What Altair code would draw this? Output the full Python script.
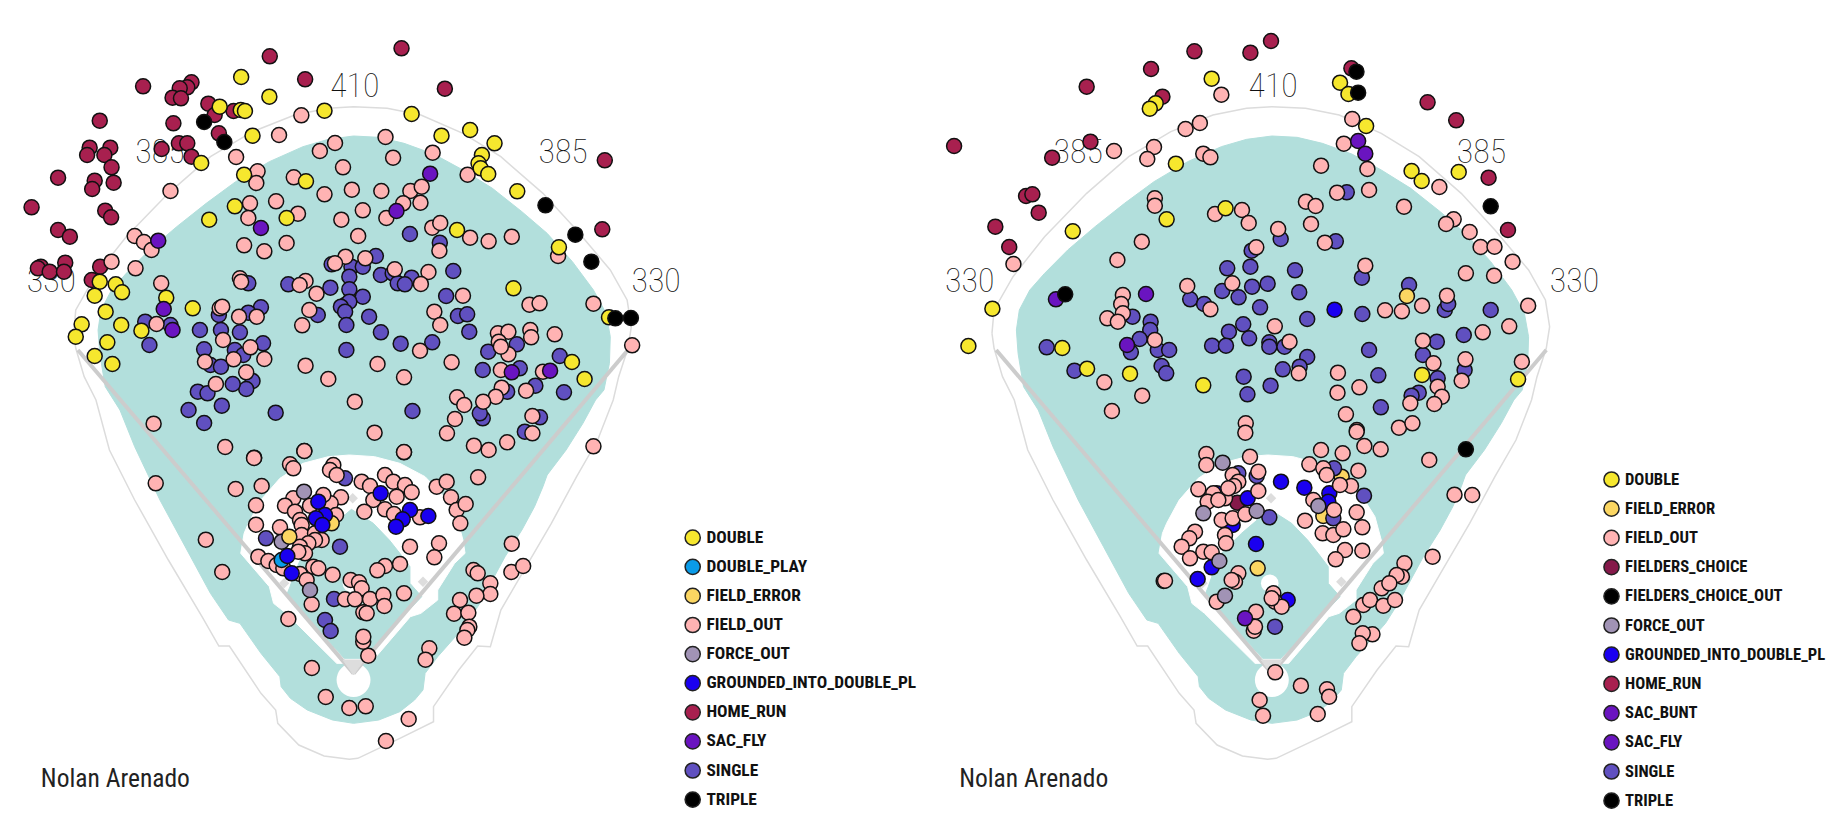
import altair as alt
import pandas as pd

TEAL = "#b2dfdc"
WALL = "#dcdcdc"
LINE = "#cccccc"
FONT = "Roboto Condensed, Roboto"

COLORS = {
    "DOUBLE": "#f6e72e", "DOUBLE_PLAY": "#0a9be8", "FIELD_ERROR": "#fbd662", "FIELD_OUT": "#ffb3b3",
    "FIELDERS_CHOICE": "#85194a", "FIELDERS_CHOICE_OUT": "#000000", "FORCE_OUT": "#a193b5",
    "GROUNDED_INTO_DOUBLE_PL": "#1a00f0", "HOME_RUN": "#a8204f", "SAC_BUNT": "#6a14c0",
    "SAC_FLY": "#6a14c0", "SINGLE": "#6050c0", "TRIPLE": "#000000",
}
LEFT_LEGEND = ["DOUBLE", "DOUBLE_PLAY", "FIELD_ERROR", "FIELD_OUT", "FORCE_OUT", "GROUNDED_INTO_DOUBLE_PL",
               "HOME_RUN", "SAC_FLY", "SINGLE", "TRIPLE"]
RIGHT_LEGEND = ["DOUBLE", "FIELD_ERROR", "FIELD_OUT", "FIELDERS_CHOICE", "FIELDERS_CHOICE_OUT", "FORCE_OUT",
                "GROUNDED_INTO_DOUBLE_PL", "HOME_RUN", "SAC_BUNT", "SAC_FLY", "SINGLE", "TRIPLE"]

# ---- left panel hits (outfield)
L_SINGLE = [(974,702),(1045,728),(893,768),(788,793),(835,800),(862,800),(905,825),(933,820),(978,833),(945,850),(962,853),(830,830),(1077,813),(685,853),(785,863),(830,868),(862,890),(1060,888),(590,850),(820,915),(830,905),(810,920),(820,935),(755,945),(877,950),(1088,948),(1110,943),(1115,995),(620,922),(590,938),(520,945),(823,975),(905,997),(475,990),(525,990),(570,997),(345,965),(405,975),(355,1035),(952,1031),(1027,1027),(625,1030),(485,1048),(558,1050),(578,1065),(823,1050),(1160,1055),(1228,1033),(1147,1110),(1235,1105),(1330,1068),(500,1095),(525,1100),(600,1143),(585,1167),(553,1152),(470,1175),(493,1180),(1272,1157),(1340,1177),(1205,1175),
            (448,1230),(527,1217),(485,1269),(655,1238),(980,1233),(1147,1255),(1140,1240),(1283,1252),(1247,1295)]
L_HOME_RUN = [(641,169),(954,145),(725,238),(1057,266),(340,259),(455,247),(445,262),(427,265),(410,293),(430,295),(495,311),(510,345),(555,333),(412,370),(520,400),(237,362),(213,443),(207,465),(262,443),(248,465),(265,502),(225,542),(219,567),(270,548),(138,533),(75,622),(250,632),(264,652),(138,690),(166,710),(384,447),(425,430),(445,430),(455,470),(1437,481),(1431,688),(155,788),(97,800),(90,805),(118,815),(152,815),(238,800),(218,840)]
L_FIELD_OUT = [(716,346),(663,405),(796,429),(760,453),(916,411),(934,473),(1028,458),(815,502),(561,471),(612,514),(609,549),(698,532),(1111,524),(771,583),(836,569),(906,573),(975,573),(1002,560),(405,573),(594,610),(656,604),(708,641),(999,608),(958,610),(862,631),(811,659),(918,654),(590,654),(1027,683),(1046,669),(1117,713),(1161,724),(1216,710),(851,708),(681,729),(580,736),(628,754),(320,708),(342,726),(360,750),(1044,752),(1326,768),(265,785),(322,805),(821,770),(796,790),(868,775),(1018,816),(938,808),(1000,852),(726,843),(712,855),(570,835),(573,845),(383,850),(752,881),(1100,887),(1258,914),(1282,910),(1410,911),(1032,935),(735,930),(522,925),(528,920),(1046,975),(718,976),(568,950),(610,950),(372,972),(1183,1000),(1208,995),(1260,990),(1262,1012),(1318,1003),(530,1020),(1185,1025),(595,1042),(998,1052),(1502,1036),(1208,1063),(628,1077),(1190,1040),(487,1085),(555,1078),(1073,1087),(726,1097),(897,1092),(585,1117),(1190,1110),(1290,1115),(780,1137),(960,1132),(513,1152),(1192,1163),(1250,1172),(1178,1190),(1086,1192),
               (365,1271),(843,1205),(1103,1215),(1148,1205),(1081,1257),(1062,1300),(1126,1337),(1161,1350),(1205,1327),(1265,1248),(1265,1300),(890,1298),(535,1341),(604,1373),(723,1353),(960,1357),(1410,1339),(370,1450),(1136,1432),(1216,1631),(489,1619),(528,1716),(1125,1710),(1135,1720),(1215,1716),(1243,1698),(1165,1750),(1165,1782),(1132,1787),(1020,1945),(1011,1979),(875,1967),(741,2004),(774,2091),(830,2124),(869,2119),(971,2157),(917,2223),(863,1925)]
L_DOUBLE = [(573,231),(640,290),(522,320),(572,330),(582,333),(771,332),(978,342),(600,407),(1049,407),(1117,390),(1175,430),(1145,465),(1137,490),(1142,505),(1160,522),(478,489),(580,524),(727,544),(1229,574),(558,619),(497,659),(681,654),(1086,690),(1328,742),(1220,865),(237,845),(275,853),(290,877),(225,887),(395,893),(458,925),(251,935),(194,973),(288,975),(336,992),(180,1010),(255,1027),(225,1068),(267,1092),(1447,952),(1359,1086),(1389,1137)]
L_SAC_FLY = [(1022,521),(942,633),(620,684),(376,722),(389,927),(410,990),(1307,1112),(1216,1117)]
L_TRIPLE = [(485,366),(533,426),(1296,616),(1367,704),(1405,785),(1462,955),(1499,954)]

# ---- left panel hits (infield, read in pixels of a crop at page x 230, y 440)
L_IN_SINGLE = [(345,115),(108,295),(330,320),(312,477),(285,540),(302,573)]
L_IN_FIELD_OUT = [(223,33),(72,54),(522,36),(180,73),(190,85),(17,147),(95,138),(78,196),(78,254),(310,75),(300,90),(320,105),(395,125),(420,138),(465,105),(490,125),(525,135),(545,157),(500,170),(430,180),(465,208),(492,222),(403,215),(333,172),(302,190),(318,225),(280,165),(240,197),(190,175),(165,197),(195,215),(210,240),(215,255),(215,285),(150,262),(255,280),(275,300),(255,300),(235,310),(210,320),(225,340),(205,335),(85,350),(115,363),(140,375),(160,385),(250,380),(265,385),(210,402),(230,420),(308,404),(570,232),(540,320),(627,310),(613,352),(510,372),(465,378),(442,391),(620,140),(650,125),(663,172),(680,210),(707,192),(691,250),(362,420),(387,427),(395,445),(345,478),(375,478),(420,477),(460,465),(463,498),(400,517),(410,520),(522,460),(245,493),(175,537),(690,480),(672,521),(715,518),(718,560),(712,570),(703,593),(400,590)]
L_IN_FORCE_OUT = [(222,155),(155,305),(240,450)]
L_IN_DOUBLE_PLAY = [(155,360)]
L_IN_FIELD_ERROR = [(178,290),(305,250)]
L_IN_GIDP = [(452,160),(540,210),(518,238),(498,260),(595,228),(265,185),(285,225),(258,235),(277,255),(172,348),(185,400)]

# ---- right panel hits (outfield)
R_SINGLE = [(1014,577),(857,717),(988,724),(788,752),(730,805),(785,800),(891,811),(1050,833),(826,851),(718,873),(789,860),(757,892),(901,877),(1162,855),(642,898),(675,912),(808,922),(505,950),(548,965),(547,990),(1247,930),(1255,912),(1051,942),(1356,930),(920,957),(768,973),(734,995),(782,1015),(1292,1005),(522,1017),(830,1027),(830,1040),(866,1040),(694,1037),(727,1037),(501,1057),(565,1050),(592,1050),(301,1042),(1067,1050),(1228,1025),(1195,1065),(920,1071),(902,1100),(862,1108),(574,1098),(585,1120),(367,1112),(769,1130),(1294,1110),(1089,1126),(1230,1135),(833,1157),(778,1183),(1185,1178),(1168,1187),(1095,1222)]
R_HOME_RUN = [(81,438),(396,260),(549,207),(652,154),(785,158),(834,123),(1025,205),(576,290),(1206,307),(1274,361),(405,425),(314,473),(252,588),(267,583),(282,638),(179,680),(212,741),(1351,533),(1397,690)]
R_FIELD_OUT = [(716,284),(1027,357),(665,369),(631,387),(556,441),(540,477),(461,453),(1007,431),(673,461),(690,472),(953,497),(1063,507),(991,578),(1067,570),(1234,561),(558,595),(558,617),(917,605),(940,618),(1150,620),(1268,658),(1250,672),(701,642),(765,630),(781,669),(929,672),(851,687),(1306,696),(527,725),(962,728),(1332,741),(1365,740),(799,742),(222,792),(469,780),(1408,785),(1297,820),(1364,827),(1058,797),(635,858),(742,850),(1252,887),(482,885),(478,912),(1445,917),(482,940),(445,955),(470,965),(690,928),(1105,931),(1145,934),(1193,917),(1400,979),(843,979),(1337,997),(558,1020),(878,1025),(1195,1022),(1430,1085),(1296,1078),(1220,1090),(438,1147),(993,1118),(900,1120),(1044,1162),(1287,1142),(1230,1160),(992,1178),(1240,1190),(1222,1212),(1165,1210),(528,1187),
               (456,1233),(1012,1243),(1038,1290),(1138,1283),(1170,1270),(774,1270),(1210,1380),(1270,1484),(1312,1485),(1218,1670),(1151,1690),(1145,1730),(579,1743),(1075,1903),(1052,1900),(1044,1930),(793,1892),(844,2017),(905,2057),(967,2068),(972,2090),(807,2100),(815,2147),(945,2142)]
R_GIDP = [(985,929)]
R_FIELD_ERROR = [(1157,888)]
R_DOUBLE = [(693,236),(998,248),(1018,282),(560,310),(546,326),(1060,378),(608,491),(1168,513),(1192,543),(1280,516),(726,625),(586,658),(363,694),(172,926),(115,1038),(338,1044),(397,1106),(499,1121),(673,1156),(1193,1125),(1421,1138)]
R_SAC_FLY = [(1041,423),(1058,461),(323,898),(537,882),(492,1035)]
R_TRIPLE = [(1037,215),(1041,278),(1356,619)]
R_FC_OUT = [(345,883),(1297,1348)]

# ---- right panel hits (infield, read in pixels of a crop at page x 1160, y 430)
R_IN_SINGLE = [(290,138),(235,130),(522,115),(612,197),(328,262),(520,265),(345,590)]
R_IN_FORCE_OUT = [(188,98),(290,243),(130,250),(475,228),(178,393),(195,497)]
R_IN_FIELD_OUT = [(256,8),(590,5),(613,48),(662,58),(139,72),(139,105),(270,80),(483,60),(548,70),(448,103),(595,122),(573,168),(490,115),(500,135),(295,125),(295,183),(218,135),(235,155),(222,168),(115,178),(160,190),(143,215),(195,205),(175,210),(205,175),(540,165),(435,272),(590,247),(607,292),(185,270),(218,265),(256,253),(195,315),(198,340),(105,305),(88,325),(65,350),(90,385),(130,365),(155,367),(488,310),(520,315),(550,298),(522,240),(460,210),(555,360),(607,362),(527,388),(15,452),(235,430),(225,455),(215,450),(170,515),(340,490),(345,515),(365,530),(335,505),(288,545),(285,590),(665,475),(710,435),(688,460),(610,525),(580,560),(630,510),(670,527),(705,510)]
R_IN_FIELDERS_CHOICE = [(232,218)]
R_IN_GIDP = [(363,155),(433,173),(508,190),(505,215),(263,205),(170,190),(155,412),(113,447),(288,342),(383,510),(218,285)]
R_IN_FIELD_ERROR = [(293,415),(545,140),(490,258)]
R_IN_SAC_BUNT = [(255,565)]

# ---- ballpark outlines
FIELD = [(840,408),(900,412),(960,430),(1030,462),(1100,510),(1170,565),(1240,635),(1300,700),(1360,785),(1410,870),(1440,940),(1450,1010),(1448,1090),(1435,1170),(1415,1200),(1385,1270),(1345,1350),(1300,1425),(1290,1460),(1270,1520),(1240,1590),(1200,1670),(1170,1740),(1140,1810),(1110,1870),(1075,1920),(1040,1970),(1010,2020),(1005,2070),(985,2100),(950,2135),(900,2160),(840,2170),(790,2160),(730,2130),(690,2095),(668,2060),(665,2030),(620,1960),(570,1870),(543,1860),(500,1780),(440,1640),(380,1500),(320,1340),(285,1230),(250,1160),(237,1060),(233,990),(240,930),(265,870),(300,820),(355,750),(420,680),(490,610),(560,545),(640,485),(720,440),(780,418)]
DIRT = [(830,1365),(890,1370),(950,1390),(1010,1430),(1055,1490),(1085,1550),(1100,1620),(1105,1660),(1080,1690),(1040,1770),(1040,1800),(1000,1840),(975,1850),(880,1990),(800,1990),(680,1840),(650,1810),(640,1760),(572,1660),(580,1600),(590,1570),(620,1500),(665,1435),(720,1390),(780,1370)]
GRASS = [(835,1528),(887,1570),(925,1620),(950,1660),(974,1700),(974,1750),(1002,1790),(862,1975),(818,1975),(681,1785),(689,1760),(700,1720),(720,1660),(768,1600)]
WALL_LINE = [(175,1000),(180,930),(225,830),(300,710),(400,580),(500,470),(600,395),(700,345),(780,325),(840,320),(920,325),(1000,345),(1100,400),(1190,470),(1290,580),(1370,690),(1450,810),(1490,900),(1500,980),(1492,1045),(1470,1130),(1457,1200),(1420,1320),(1370,1430),(1310,1570),(1250,1700),(1190,1830),(1165,1940),(1135,1938),(1090,2010),(1030,2120),(1030,2165),(950,2215),(850,2275),(830,2278),(770,2268),(710,2235),(660,2170),(655,2130),(620,2080),(545,1938),(520,1938),(480,1850),(400,1680),(320,1500),(260,1350),(228,1200),(200,1130),(180,1045),(175,1000)]
FOUL_LEFT = [(185,1050),(840,2020)]
FOUL_RIGHT = [(1492,1050),(840,2020)]
PLATE = [(815,1980),(865,1980),(840,2025)]
BASES = [(1005,1745),(675,1750),(838,1495)]
HOME_CIRCLE = [(840,2040)]
MOUND = [(835,1750)]
DISTANCES = [("330",122,845),("385",380,458),("410",843,261),("385",1338,458),("330",1559,845)]
NAME = "Nolan Arenado"


def crop(points, page_x, page_y, x0):
    """Crop pixels (3x) to the panel's units (2.376 per page px across, 3 per page px down)."""
    return [((page_x - x0 + c[0] / 3) * 2.376, page_y * 3 + c[1]) for c in points]


def L(points):
    return crop(points, 230, 440, 0)


def R(points):
    return crop(points, 1160, 430, 920)


def xy(points, dx=0):
    return pd.DataFrame({"x": [p[0] + dx for p in points], "y": [p[1] for p in points],
                         "i": list(range(len(points)))})


def panel(width, xstart, dx, series, legend_domain, legend_x, legend_y, name_x, legend_font, row_padding):
    X = alt.X("x:Q", axis=None, scale=alt.Scale(domain=[xstart, xstart + width * 2.376], nice=False, zero=False))
    Y = alt.Y("y:Q", axis=None, scale=alt.Scale(domain=[24 + 811 * 3, 24], nice=False, zero=False))

    def poly(points, fill):
        return alt.Chart(xy(points, dx)).mark_line(fill=fill, stroke=fill, strokeWidth=1, interpolate="linear-closed").encode(
            x=X, y=Y, order=alt.Order("i:Q"))

    def stroke(points, color, w):
        return alt.Chart(xy(points, dx)).mark_line(color=color, strokeWidth=w).encode(
            x=X, y=Y, order=alt.Order("i:Q"))

    layers = [
        poly(FIELD, TEAL),
        poly(DIRT, "#ffffff"),
        poly(GRASS, TEAL),
        alt.Chart(xy(HOME_CIRCLE, dx)).mark_circle(color="#ffffff", size=1150, opacity=1).encode(x=X, y=Y),
        alt.Chart(xy(MOUND, dx)).mark_circle(color="#ffffff", size=310, opacity=1).encode(x=X, y=Y),
        stroke(WALL_LINE, WALL, 1.5),
        stroke(FOUL_LEFT, LINE, 4),
        stroke(FOUL_RIGHT, LINE, 4),
        poly(PLATE, "#dddddd"),
        alt.Chart(xy(BASES, dx)).mark_point(shape="diamond", filled=True, color="#dddddd", size=110, opacity=1).encode(x=X, y=Y),
        alt.Chart(pd.DataFrame({"t": [d[0] for d in DISTANCES], "x": [d[1] + dx for d in DISTANCES],
                                "y": [d[2] for d in DISTANCES]})).mark_text(
            font=FONT, fontSize=34, fontWeight=100, color="#111111", align="center", baseline="middle"
        ).encode(x=X, y=Y, text="t:N"),
        alt.Chart(pd.DataFrame({"t": [NAME], "x": [name_x], "y": [2337]})).mark_text(
            font=FONT, fontSize=25.5, color="#222222", align="left", baseline="middle"
        ).encode(x=X, y=Y, text="t:N"),
    ]
    rows = []
    for event, pts in series:
        for p in pts:
            rows.append({"x": p[0], "y": p[1], "event": event})
    df = pd.DataFrame(rows)
    df["n"] = range(len(df))
    layers.append(
        alt.Chart(df).mark_circle(size=225, opacity=1, stroke="#111111", strokeWidth=1.5).encode(
            x=X, y=Y, order=alt.Order("n:Q"),
            color=alt.Color("event:N", scale=alt.Scale(domain=legend_domain, range=[COLORS[e] for e in legend_domain]),
                            legend=alt.Legend(orient="none", legendX=legend_x, legendY=legend_y, title=None,
                                              symbolType="circle", symbolSize=230, symbolStrokeWidth=1.5,
                                              symbolStrokeColor="#222222", symbolOpacity=1, rowPadding=row_padding,
                                              labelFont=FONT, labelFontWeight="bold",
                                              labelFontSize=legend_font, labelColor="#111111", labelOffset=5, labelLimit=300,
                                              values=legend_domain)))
    )
    return alt.layer(*layers).properties(width=width, height=811)


left = panel(912, 19, 0, [("SINGLE", L_SINGLE), ("HOME_RUN", L_HOME_RUN), ("FIELD_OUT", L_FIELD_OUT),
                          ("SINGLE", L(L_IN_SINGLE)), ("FIELD_OUT", L(L_IN_FIELD_OUT)),
                          ("FORCE_OUT", L(L_IN_FORCE_OUT)), ("DOUBLE_PLAY", L(L_IN_DOUBLE_PLAY)),
                          ("FIELD_ERROR", L(L_IN_FIELD_ERROR)), ("GROUNDED_INTO_DOUBLE_PL", L(L_IN_GIDP)),
                          ("DOUBLE", L_DOUBLE), ("SAC_FLY", L_SAC_FLY), ("TRIPLE", L_TRIPLE)],
             LEFT_LEGEND, 676, 521, 97, 17.4, 7.1)
right = panel(909, 0, -4, [("SINGLE", R_SINGLE), ("HOME_RUN", R_HOME_RUN), ("FIELD_OUT", R_FIELD_OUT),
                           ("FIELDERS_CHOICE", R(R_IN_FIELDERS_CHOICE)), ("GROUNDED_INTO_DOUBLE_PL", R(R_IN_GIDP)),
                           ("FIELD_ERROR", R(R_IN_FIELD_ERROR)), ("SINGLE", R(R_IN_SINGLE)),
                           ("FIELD_OUT", R(R_IN_FIELD_OUT)), ("FORCE_OUT", R(R_IN_FORCE_OUT)),
                           ("GROUNDED_INTO_DOUBLE_PL", R_GIDP), ("FIELD_ERROR", R_FIELD_ERROR), ("DOUBLE", R_DOUBLE),
                           ("SAC_FLY", R_SAC_FLY), ("SAC_BUNT", R(R_IN_SAC_BUNT)), ("TRIPLE", R_TRIPLE),
                           ("FIELDERS_CHOICE_OUT", R_FC_OUT)], RIGHT_LEGEND, 683, 463, 93, 16.6, 6.2)

chart = alt.hconcat(left, right, spacing=0).resolve_scale(color="independent").properties(
    padding=0, background="#ffffff"
).configure_view(stroke=None)
chart.save("out.html", embed_options={"renderer": "svg", "actions": False})
